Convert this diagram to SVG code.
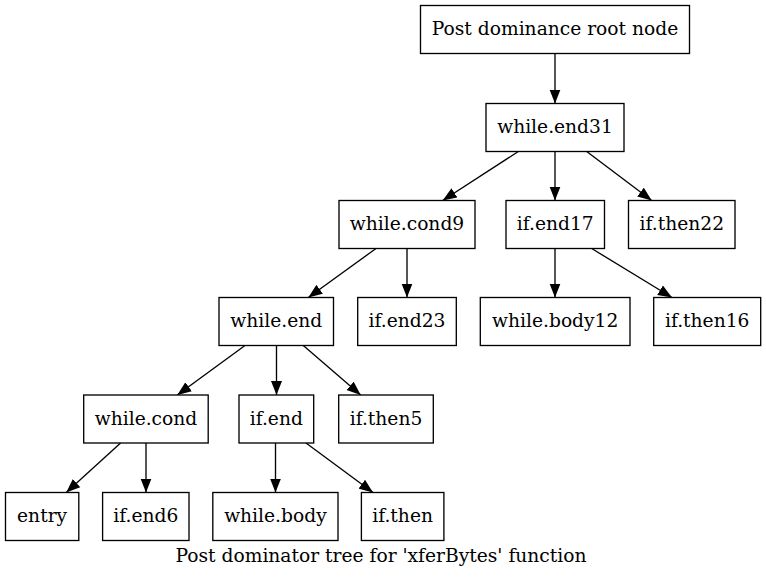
<svg xmlns="http://www.w3.org/2000/svg" width="766" height="577" viewBox="0 0 766 577">
<style>
.n rect{fill:#fff;stroke:#000;stroke-width:1.33}
text{font-family:"DejaVu Serif","Liberation Serif",serif;font-size:18.67px;fill:#000;text-anchor:middle}
.e line{stroke:#000;stroke-width:1.33}
</style>
<defs>
<marker id="ah" markerUnits="userSpaceOnUse" markerWidth="15" markerHeight="12" refX="14" refY="5.5" orient="auto" viewBox="0 0 15 11">
<path d="M0,0 L14,5.5 L0,11 z" fill="#000"/>
</marker>
</defs>
<rect width="766" height="577" fill="#fff"/>
<g class="e" marker-end="url(#ah)">
<line x1="555" y1="53.5" x2="555" y2="103.5" marker-end="url(#ah)"/>
<line x1="518.3" y1="151.5" x2="442.7" y2="200.5" marker-end="url(#ah)"/>
<line x1="555" y1="151.5" x2="555" y2="200.5" marker-end="url(#ah)"/>
<line x1="586.7" y1="151.5" x2="651.7" y2="200.5" marker-end="url(#ah)"/>
<line x1="376" y1="248.5" x2="308.3" y2="297.5" marker-end="url(#ah)"/>
<line x1="407" y1="248.5" x2="407" y2="297.5" marker-end="url(#ah)"/>
<line x1="555" y1="248.5" x2="555" y2="297.5" marker-end="url(#ah)"/>
<line x1="591.7" y1="248.5" x2="672" y2="297.5" marker-end="url(#ah)"/>
<line x1="245" y1="345.5" x2="177.3" y2="395" marker-end="url(#ah)"/>
<line x1="276.5" y1="345.5" x2="276.5" y2="395" marker-end="url(#ah)"/>
<line x1="303.3" y1="345.5" x2="360.7" y2="395" marker-end="url(#ah)"/>
<line x1="120.6" y1="443" x2="66.2" y2="492.5" marker-end="url(#ah)"/>
<line x1="146" y1="443" x2="146" y2="492.5" marker-end="url(#ah)"/>
<line x1="275.5" y1="443" x2="275.5" y2="492.5" marker-end="url(#ah)"/>
<line x1="306" y1="443" x2="373" y2="492.5" marker-end="url(#ah)"/>
</g>
<g id="root" class="n"><rect x="420.5" y="5.5" width="269" height="48"/><text x="555" y="35">Post dominance root node</text></g>
<g id="while_end31" class="n"><rect x="486" y="103.5" width="138" height="48"/><text x="555" y="133">while.end31</text></g>
<g id="while_cond9" class="n"><rect x="339" y="200.5" width="136" height="48"/><text x="407" y="230">while.cond9</text></g>
<g id="if_end17" class="n"><rect x="506" y="200.5" width="98.5" height="48"/><text x="555.2" y="230">if.end17</text></g>
<g id="if_then22" class="n"><rect x="628.5" y="200.5" width="106.5" height="48"/><text x="681.8" y="230">if.then22</text></g>
<g id="while_end" class="n"><rect x="219" y="297.5" width="114.5" height="48"/><text x="276.2" y="327">while.end</text></g>
<g id="if_end23" class="n"><rect x="357.7" y="297.5" width="98.6" height="48"/><text x="407" y="327">if.end23</text></g>
<g id="while_body12" class="n"><rect x="480.3" y="297.5" width="149.7" height="48"/><text x="555.2" y="327">while.body12</text></g>
<g id="if_then16" class="n"><rect x="653.7" y="297.5" width="107" height="48"/><text x="707.2" y="327">if.then16</text></g>
<g id="while_cond" class="n"><rect x="83.7" y="395" width="124.5" height="48"/><text x="146" y="424.5">while.cond</text></g>
<g id="if_end" class="n"><rect x="239" y="395" width="74.7" height="48"/><text x="276.3" y="424.5">if.end</text></g>
<g id="if_then5" class="n"><rect x="338.7" y="395" width="94.6" height="48"/><text x="386" y="424.5">if.then5</text></g>
<g id="entry" class="n"><rect x="5.5" y="492.5" width="73.3" height="48"/><text x="42.1" y="522">entry</text></g>
<g id="if_end6" class="n"><rect x="102.6" y="492.5" width="86.4" height="48"/><text x="145.8" y="522">if.end6</text></g>
<g id="while_body" class="n"><rect x="212.8" y="492.5" width="125.2" height="48"/><text x="275.4" y="522">while.body</text></g>
<g id="if_then" class="n"><rect x="361.4" y="492.5" width="82.5" height="48"/><text x="402.6" y="522">if.then</text></g>
<text x="381" y="562">Post dominator tree for 'xferBytes' function</text>
</svg>
